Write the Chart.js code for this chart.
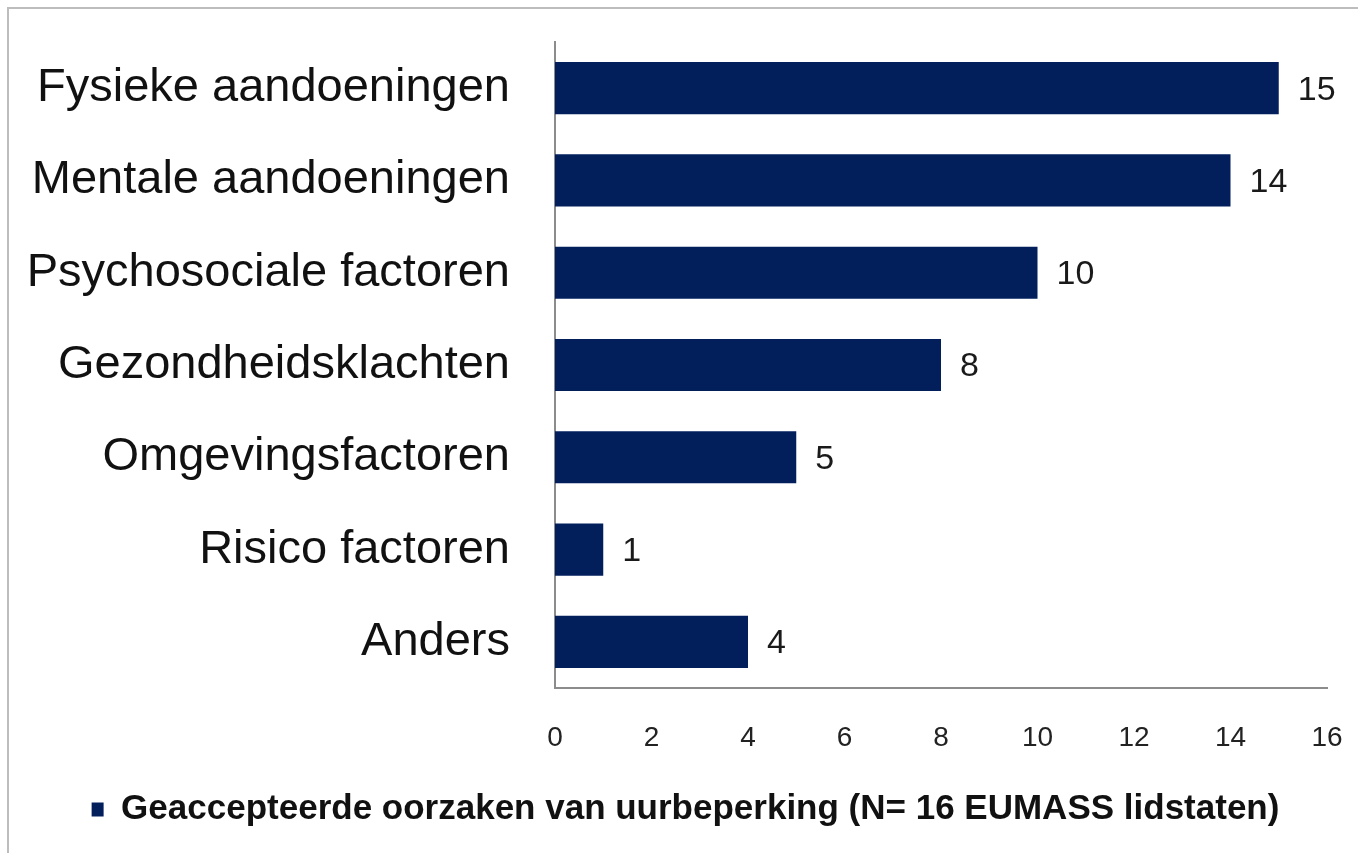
<!DOCTYPE html>
<html>
<head>
<meta charset="utf-8">
<script src="https://cdn.jsdelivr.net/npm/chart.js@4/dist/chart.umd.min.js"></script>
<style>
  html, body { margin: 0; padding: 0; background: #fff; overflow: hidden; }
  #frame { position: absolute; left: 7px; top: 7px; width: 1400px; height: 900px; border: 2px solid #bdbdbd; }
  #wrap { position: absolute; left: 0; top: 0; width: 1358px; height: 853px; }
</style>
</head>
<body>
<div id="frame"></div>
<div id="wrap"><canvas id="oorzakenChart" width="1358" height="853"></canvas></div>
<script>
// Categories and values
const categories = ['Fysieke aandoeningen', 'Mentale aandoeningen', 'Psychosociale factoren',
  'Gezondheidsklachten', 'Omgevingsfactoren', 'Risico factoren', 'Anders'];
const values = [15, 14, 10, 8, 5, 1, 4];
const seriesName = 'Geaccepteerde oorzaken van uurbeperking (N= 16 EUMASS lidstaten)';
const xTicks = [0, 2, 4, 6, 8, 10, 12, 14, 16];

const barColor = '#021f5c';
const fontFamily = "'Liberation Sans', Arial, sans-serif";

// Small plugin to write the value next to each bar
const valueLabels = {
  id: 'valueLabels',
  afterDatasetsDraw(chart) {
    const ctx = chart.ctx;
    const meta = chart.getDatasetMeta(0);
    ctx.save();
    ctx.font = '34px ' + fontFamily;
    ctx.fillStyle = '#1a1a1a';
    ctx.textAlign = 'left';
    ctx.textBaseline = 'middle';
    meta.data.forEach(function (bar, i) {
      ctx.fillText(String(values[i]), bar.x + 19, bar.y + 2);
    });
    ctx.restore();
  }
};

// legend sits a bit right of centre in the original
const shiftLegend = {
  id: 'shiftLegend',
  afterLayout(chart) {
    chart.legend.left += 22;
    chart.legend.right += 22;
  }
};

var ctx = document.getElementById('oorzakenChart').getContext('2d');

var oorzakenChart = new Chart(ctx, {
  type: 'bar',
  data: {
    labels: categories,
    datasets: [{
      label: seriesName,
      data: values,
      backgroundColor: barColor,
      borderWidth: 0,
      categoryPercentage: 1.0,
      barPercentage: 0.565
    }]
  },
  options: {
    indexAxis: 'y',
    responsive: false,
    animation: false,
    layout: { padding: { top: 42, right: 31, left: 0, bottom: 16 } },
    plugins: {
      tooltip: { enabled: false },
      legend: {
        position: 'bottom',
        labels: {
          color: '#111',
          font: { family: fontFamily, size: 35, weight: 'bold' },
          boxWidth: 12,
          boxHeight: 14,
          padding: 12
        }
      }
    },
    scales: {
      x: {
        min: 0,
        max: 16,
        afterBuildTicks(scale) {
          scale.ticks = xTicks.map(v => ({ value: v }));
        },
        afterFit(scale) {
          scale.height = 92;
          scale.paddingLeft = 0;
          scale.paddingRight = 0;
        },
        grid: { display: false, drawTicks: false },
        border: { display: true, color: '#8c8c8c', width: 2 },
        ticks: {
          padding: 33,
          color: '#222',
          font: { family: fontFamily, size: 28 }
        }
      },
      y: {
        afterFit(scale) {
          scale.width = 555;
          scale.paddingTop = 0;
          scale.paddingBottom = 0;
        },
        grid: { display: false, drawTicks: false },
        border: { display: true, color: '#8c8c8c', width: 2 },
        ticks: {
          padding: 45,
          color: '#111',
          font: { family: fontFamily, size: 47 }
        }
      }
    }
  },
  plugins: [valueLabels, shiftLegend]
});
</script>
</body>
</html>
